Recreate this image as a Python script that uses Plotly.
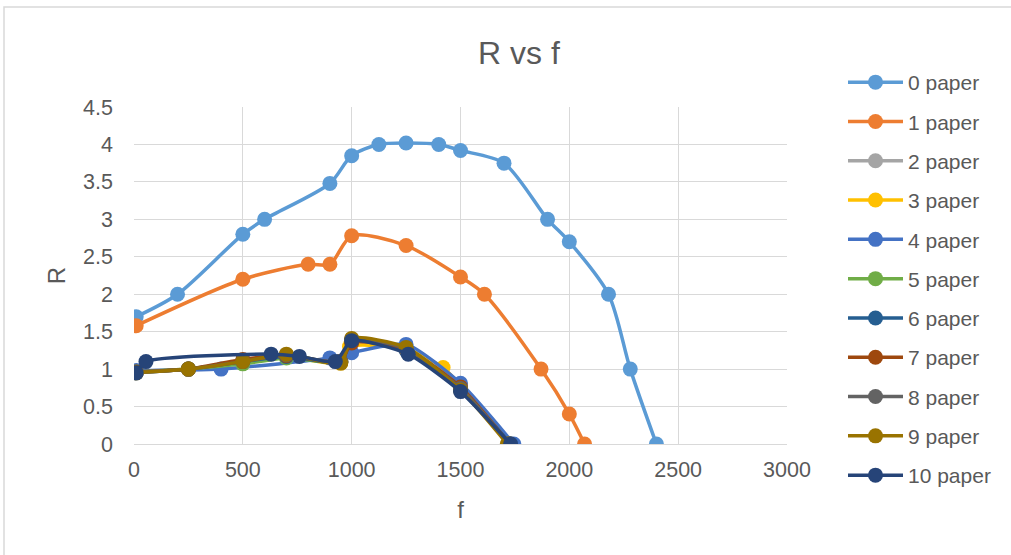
import plotly.graph_objects as go

names = ["0 paper", "1 paper", "2 paper", "3 paper", "4 paper", "5 paper",
         "6 paper", "7 paper", "8 paper", "9 paper", "10 paper"]
colors = ["#5B9BD5", "#ED7D31", "#A5A5A5", "#FFC000", "#4472C4", "#70AD47",
          "#255E91", "#9E480E", "#636363", "#997300", "#264478"]

f0 = [10, 200, 500, 600, 900, 1000, 1125, 1250, 1400, 1500, 1700, 1900, 2000, 2180, 2280, 2400]
r0 = [1.7, 2.0, 2.8, 3.0, 3.48, 3.85, 4.0, 4.02, 4.0, 3.92, 3.75, 3.0, 2.7, 2.0, 1.0, 0.0]
f1 = [10, 500, 800, 900, 1000, 1250, 1500, 1610, 1870, 2000, 2070]
r1 = [1.58, 2.2, 2.4, 2.4, 2.78, 2.65, 2.23, 2.0, 1.0, 0.4, 0.0]
f2 = [10, 250, 500, 700, 950, 1000, 1250, 1500, 1730]
r2 = [0.97, 1.0, 1.1, 1.18, 1.1, 1.38, 1.28, 0.75, 0.0]
f3 = [10, 250, 500, 700, 950, 990, 1250, 1420, 1500, 1720]
r3 = [0.96, 1.0, 1.1, 1.17, 1.08, 1.3, 1.27, 1.02, 0.78, 0.0]
f4 = [10, 400, 900, 1000, 1250, 1500, 1745]
r4 = [0.98, 1.0, 1.15, 1.22, 1.33, 0.81, 0.0]
f5 = [10, 250, 500, 700, 950, 1000, 1250, 1500, 1725]
r5 = [0.96, 1.0, 1.07, 1.15, 1.1, 1.37, 1.28, 0.74, 0.0]
f6 = [10, 250, 500, 700, 950, 1000, 1250, 1500, 1730]
r6 = [0.95, 1.0, 1.1, 1.17, 1.09, 1.38, 1.25, 0.73, 0.0]
f7 = [10, 250, 500, 700, 950, 1000, 1250, 1500, 1725]
r7 = [0.96, 1.0, 1.13, 1.18, 1.1, 1.35, 1.27, 0.76, 0.0]
f8 = [10, 250, 500, 700, 950, 1000, 1250, 1500, 1725]
r8 = [0.95, 1.0, 1.1, 1.19, 1.1, 1.4, 1.27, 0.74, 0.0]
f9 = [10, 250, 500, 700, 950, 1000, 1250, 1500, 1715]
r9 = [0.95, 1.0, 1.1, 1.2, 1.08, 1.41, 1.29, 0.72, 0.0]
f10 = [10, 55, 630, 760, 925, 1000, 1260, 1500, 1730]
r10 = [0.95, 1.1, 1.2, 1.17, 1.1, 1.38, 1.2, 0.7, 0.0]

fs = [f0, f1, f2, f3, f4, f5, f6, f7, f8, f9, f10]
rs = [r0, r1, r2, r3, r4, r5, r6, r7, r8, r9, r10]

x_ticks = [0, 500, 1000, 1500, 2000, 2500, 3000]
y_ticks = [0, 0.5, 1, 1.5, 2, 2.5, 3, 3.5, 4, 4.5]

FONT = "Liberation Sans"
TXT = "#595959"
GRID = "#D9D9D9"

fig = go.Figure()
for i, (n, c) in enumerate(zip(names, colors)):
    fig.add_trace(go.Scatter(
        x=fs[i], y=rs[i], name=n, mode="lines+markers",
        line=dict(color=c, width=3.5, shape="spline",
                  smoothing=0.8 if i < 2 else 0.6),
        marker=dict(color=c, size=15),
        legendgroup=n,
    ))

fig.update_layout(
    width=1011, height=555,
    margin=dict(l=134, r=224, t=107, b=111),
    paper_bgcolor="white", plot_bgcolor="white",
    font=dict(family=FONT, color=TXT, size=21),
    title=dict(text="R vs f", x=519 / 1011, xanchor="center", xref="container",
               y=1 - 53 / 555, yanchor="middle", yref="container",
               font=dict(size=32, color=TXT, family=FONT)),
    showlegend=True,
    legend=dict(x=843 / 1011, xref="container", xanchor="left",
                y=1 - 62 / 555, yref="container", yanchor="top",
                font=dict(size=21, color=TXT, family=FONT),
                tracegroupgap=9, itemwidth=55, maxheight=520,
                bgcolor="rgba(0,0,0,0)"),
    xaxis=dict(range=[0, 3000], tickvals=x_ticks, showgrid=True, gridcolor=GRID,
               gridwidth=1, zeroline=False, showline=True, linecolor=GRID,
               ticks="", tickfont=dict(size=21.5, color=TXT), ticklabelstandoff=6,
               title=dict(text="f", font=dict(size=24, color=TXT), standoff=20),
               fixedrange=True),
    yaxis=dict(range=[0, 4.5], tickvals=y_ticks, showgrid=True, gridcolor=GRID,
               gridwidth=1, zeroline=False, showline=False,
               ticks="", tickfont=dict(size=21.5, color=TXT), ticklabelstandoff=20,
               title=dict(text="R", font=dict(size=24, color=TXT), standoff=10),
               fixedrange=True),
    shapes=[dict(type="rect", xref="paper", yref="paper",
                 x0=(4 - 134) / 653, x1=2.0, y0=-1.0, y1=(444 - 7) / 337,
                 line=dict(color=GRID, width=1.5), layer="below")],
)

fig.write_html("out.html")
